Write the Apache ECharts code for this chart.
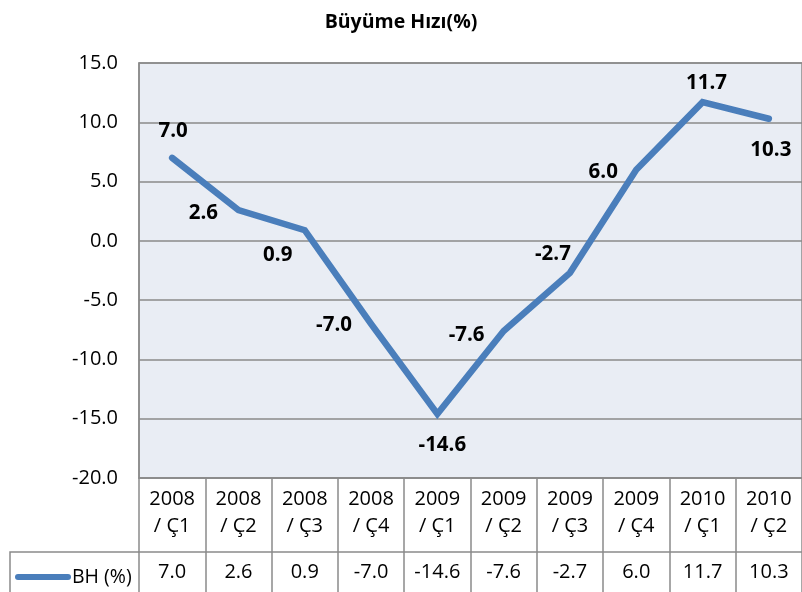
<!DOCTYPE html>
<html>
<head>
<meta charset="utf-8">
<script src="https://cdn.jsdelivr.net/npm/echarts@6/dist/echarts.min.js"></script>
<style>html,body{margin:0;padding:0;background:#fff}#c{width:802px;height:592px}</style>
</head>
<body>
<div id="c"></div>
<script>
const title = 'Büyüme Hızı(%)';
const seriesName = 'BH (%)';
const years = ['2008','2008','2008','2008','2009','2009','2009','2009','2010','2010'];
const quarters = ['Ç1','Ç2','Ç3','Ç4','Ç1','Ç2','Ç3','Ç4','Ç1','Ç2'];
const values = [7.0, 2.6, 0.9, -7.0, -14.6, -7.6, -2.7, 6.0, 11.7, 10.3];
const yTicks = {min: -20, max: 15, interval: 5};

// label placement (style only): offset of label centre from the point
const labelOffsets = [[1,-27],[-35,3],[-27,25],[-37,1],[5,31],[-37,4],[-17,-19],[-33,2],[4,-19],[2,31]];

const categories = years.map((y, i) => y + '\n/ ' + quarters[i]);
const FONT = 'Open Sans';
const GRAY = '#8a8a8a';

const chart = echarts.init(document.getElementById('c'), null, {renderer: 'canvas'});
chart.setOption({
  animation: false,
  backgroundColor: '#ffffff',
  textStyle: {fontFamily: FONT},
  title: {
    text: title, left: 'center', top: 7,
    textStyle: {fontFamily: FONT, fontWeight: 'bold', fontSize: 19.5, color: '#000'}
  },
  legend: {
    data: [{name: seriesName, icon: 'path://M3,0 L53,0 A3,3 0 0 1 53,6 L3,6 A3,3 0 0 1 3,0 Z'}],
    left: 10, top: 562, itemWidth: 56, itemHeight: 7, itemGap: 0,
    textStyle: {fontFamily: FONT, fontSize: 19.5, color: '#000', padding: [0,0,0,-4]},
    itemStyle: {color: '#4a7ebb'}
  },
  grid: {
    left: 139, top: 63, right: -3, bottom: 114,
    show: true, backgroundColor: '#e9edf4', borderColor: GRAY, borderWidth: 1.5
  },
  xAxis: [{
    type: 'category', data: categories, position: 'bottom', boundaryGap: true,
    axisLine: {show: true, onZero: false, lineStyle: {color: GRAY, width: 1.5}},
    axisTick: {show: true, length: 120, inside: false, lineStyle: {color: GRAY, width: 1.5}},
    axisLabel: {fontFamily: FONT, fontSize: 20, color: '#000', margin: 8, lineHeight: 27, interval: 0}
  }, {
    type: 'category', data: categories, position: 'bottom', offset: 74, boundaryGap: true,
    axisLine: {show: true, onZero: false, lineStyle: {color: GRAY, width: 1.5}},
    axisTick: {show: false},
    axisLabel: {
      fontFamily: FONT, fontSize: 20, color: '#000', margin: 10, interval: 0,
      formatter: (v, i) => values[i].toFixed(1)
    }
  }],
  yAxis: {
    type: 'value', min: yTicks.min, max: yTicks.max, interval: yTicks.interval,
    axisLine: {show: true, lineStyle: {color: GRAY, width: 1.5}},
    axisTick: {show: false},
    splitLine: {show: true, lineStyle: {color: GRAY, width: 1.5}},
    axisLabel: {fontFamily: FONT, fontSize: 20, color: '#000', margin: 21, formatter: v => v.toFixed(1)}
  },
  graphic: [{
    type: 'polyline', silent: true,
    shape: {points: [[139, 552], [10, 552], [10, 600]]},
    style: {stroke: GRAY, lineWidth: 1.5, fill: null}
  }],
  series: [{
    name: seriesName, type: 'line', xAxisIndex: 0,
    data: values.map((v, i) => ({
      value: v,
      label: {offset: labelOffsets[i]}
    })),
    symbol: 'circle', symbolSize: 0.1, showSymbol: true,
    itemStyle: {color: '#4a7ebb'},
    lineStyle: {color: '#4a7ebb', width: 6.5, cap: 'round', join: 'miter'},
    label: {
      show: true, position: 'inside', fontFamily: FONT, fontWeight: 'bold', fontSize: 20.5, color: '#000',
      formatter: p => Number(p.value).toFixed(1)
    }
  }]
});
</script>
</body>
</html>
